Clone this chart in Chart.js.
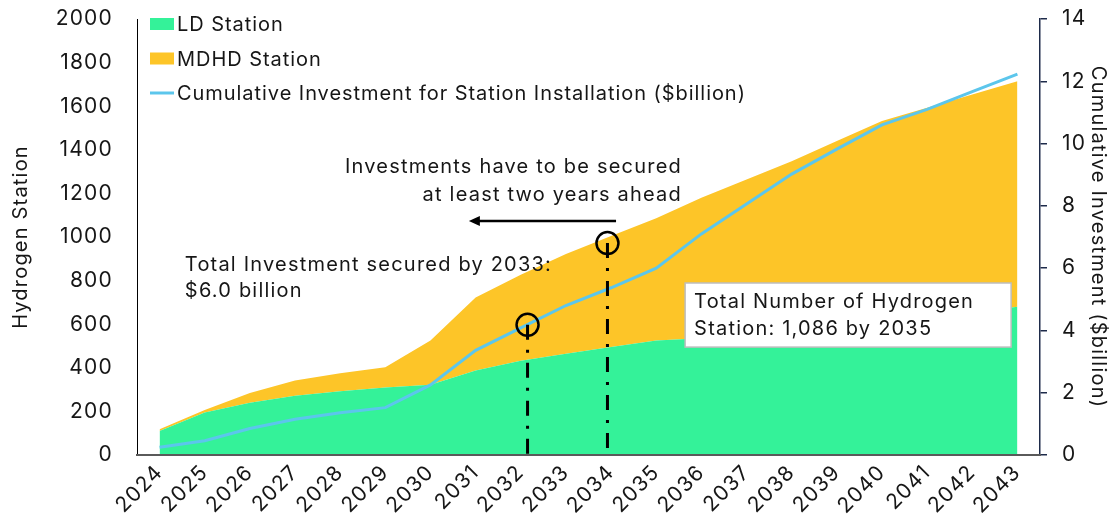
<!DOCTYPE html>
<html>
<head>
<meta charset="utf-8">
<title>Hydrogen Station Build-out</title>
<script src="https://cdn.jsdelivr.net/npm/chart.js@4.4.1/dist/chart.umd.min.js"></script>
<style>
  html, body { margin: 0; padding: 0; background: #fff; }
  canvas { display: block; }
</style>
</head>
<body>
<canvas id="stations" width="1117" height="531"></canvas>
<script>
// Station counts (left axis) and cumulative spend in $billion (right axis)
const years = ['2024', '2025', '2026', '2027', '2028', '2029', '2030', '2031', '2032', '2033',
               '2034', '2035', '2036', '2037', '2038', '2039', '2040', '2041', '2042', '2043'];
const ldStations = [110, 195, 240, 272, 292, 310, 322, 388, 432, 465,
                    495, 525, 535, 550, 565, 585, 605, 630, 655, 680];
const mdhdStations = [8, 11, 44, 70, 83, 93, 203, 334, 395, 457,
                      510, 561, 645, 714, 783, 855, 927, 963, 999, 1035];
const cumulativeInvestment = [0.25, 0.46, 0.85, 1.15, 1.36, 1.52, 2.25, 3.36, 4.08, 4.8,
                              5.37, 6.0, 7.1, 8.06, 9.02, 9.82, 10.6, 11.1, 11.67, 12.23];

const stationAxis = { min: 0, max: 2000, step: 200 };
const investmentAxis = { min: 0, max: 14, step: 2 };

// Callouts, anchored by category index (fractional) and axis value
const securedMark = { at: 8.15, investment: 4.18 };
const stationMark = { at: 9.92, stations: 972 };
const leadNote = { lines: ['Investments have to be secured', 'at least two years ahead'], right: 11.57, stations: 1322 };
const leadArrow = { from: 10.11, to: 6.85, stations: 1073 };
const securedNote = { lines: ['Total Investment secured by 2033:', '$6.0 billion'], left: 0.56, stations: 872 };
const totalNote = { lines: ['Total Number of Hydrogen', 'Station: 1,086 by 2035'], left: 11.64, right: 18.86, top: 789, bottom: 495 };

const FONT = 'Inter, "Open Sans", sans-serif';
const FONT_SIZE = 20;
const TICK_SIZE = 21;
const TRACKING = '1.2px';
const INK = '#161616';
const LD_GREEN = '#34F299';
const MDHD_YELLOW = '#FDC528';
const LINE_BLUE = '#5CC6EC';
const NAVY = '#1E2B4A';

Chart.defaults.font.family = FONT;
Chart.defaults.font.size = FONT_SIZE;
Chart.defaults.color = INK;

// wider letter spacing for every text the canvas draws
const tracking = {
  id: 'tracking',
  beforeDraw(chart) {
    chart.ctx.letterSpacing = TRACKING;
  }
};

// Legend stacked in the top-left corner of the plot
const keyBox = {
  id: 'keyBox',
  afterDatasetsDraw(chart) {
    const { ctx, chartArea } = chart;
    const x0 = chartArea.left + 13;
    ctx.save();
    ctx.font = FONT_SIZE + 'px ' + FONT;
    ctx.letterSpacing = '0.95px';
    ctx.textBaseline = 'middle';
    chart.data.datasets.forEach((ds, i) => {
      const cy = chartArea.top + 5 + i * 34.5;
      if (ds.fill === false) {
        ctx.strokeStyle = ds.borderColor;
        ctx.lineWidth = 3;
        ctx.beginPath();
        ctx.moveTo(x0, cy);
        ctx.lineTo(x0 + 24, cy);
        ctx.stroke();
      } else {
        ctx.fillStyle = ds.backgroundColor;
        ctx.fillRect(x0, cy - 6, 24, 12);
      }
      ctx.fillStyle = INK;
      ctx.fillText(ds.label, x0 + 27, cy + 1);
    });
    ctx.restore();
  }
};

function dashDot(ctx, x, yTop, yBottom) {
  ctx.save();
  ctx.strokeStyle = '#000';
  ctx.lineWidth = 3;
  ctx.setLineDash([15, 10, 3, 10]);
  ctx.beginPath();
  ctx.moveTo(x, yTop);
  ctx.lineTo(x, yBottom);
  ctx.stroke();
  ctx.restore();
}

function ring(ctx, x, y) {
  ctx.save();
  ctx.strokeStyle = '#000';
  ctx.lineWidth = 2.5;
  ctx.beginPath();
  ctx.arc(x, y, 11, 0, Math.PI * 2);
  ctx.stroke();
  ctx.restore();
}

const callouts = {
  id: 'callouts',
  afterDatasetsDraw(chart) {
    const { ctx, scales: { x, y, y1 } } = chart;
    const base = y.getPixelForValue(0);

    // dash-dot drop lines with rings
    const sx = x.getPixelForValue(securedMark.at);
    const sy = y1.getPixelForValue(securedMark.investment);
    dashDot(ctx, sx, sy, base);
    ring(ctx, sx, sy);
    const tx = x.getPixelForValue(stationMark.at);
    const ty = y.getPixelForValue(stationMark.stations);
    dashDot(ctx, tx, ty, base);
    ring(ctx, tx, ty);

    ctx.save();
    ctx.font = FONT_SIZE + 'px ' + FONT;
    ctx.fillStyle = INK;
    ctx.textBaseline = 'middle';

    // lead-time note and arrow
    ctx.textAlign = 'right';
    const lx = x.getPixelForValue(leadNote.right);
    const ly = y.getPixelForValue(leadNote.stations);
    leadNote.lines.forEach((t, i) => ctx.fillText(t, lx, ly + i * 28));

    const ay = y.getPixelForValue(leadArrow.stations);
    const a0 = x.getPixelForValue(leadArrow.from);
    const a1 = x.getPixelForValue(leadArrow.to);
    ctx.strokeStyle = '#000';
    ctx.lineWidth = 2.5;
    ctx.beginPath();
    ctx.moveTo(a0, ay);
    ctx.lineTo(a1 + 8, ay);
    ctx.stroke();
    ctx.fillStyle = '#000';
    ctx.beginPath();
    ctx.moveTo(a1, ay);
    ctx.lineTo(a1 + 11, ay - 5);
    ctx.lineTo(a1 + 11, ay + 5);
    ctx.closePath();
    ctx.fill();

    // secured investment note
    ctx.fillStyle = INK;
    ctx.textAlign = 'left';
    const nx = x.getPixelForValue(securedNote.left);
    const ny = y.getPixelForValue(securedNote.stations);
    securedNote.lines.forEach((t, i) => ctx.fillText(t, nx, ny + i * 26));

    // boxed station total
    const bx0 = x.getPixelForValue(totalNote.left);
    const bx1 = x.getPixelForValue(totalNote.right);
    const by0 = y.getPixelForValue(totalNote.top);
    const by1 = y.getPixelForValue(totalNote.bottom);
    ctx.fillStyle = '#fff';
    ctx.fillRect(bx0, by0, bx1 - bx0, by1 - by0);
    ctx.strokeStyle = '#BDBDBD';
    ctx.lineWidth = 1.5;
    ctx.strokeRect(bx0, by0, bx1 - bx0, by1 - by0);
    ctx.fillStyle = INK;
    totalNote.lines.forEach((t, i) => ctx.fillText(t, bx0 + 9, by0 + 19 + i * 26.5));
    ctx.restore();
  }
};

// keep the tick-label padding from pushing the plot area down
function fixedWidth(w) {
  return (s) => {
    s.width = w;
    s.paddingTop = 0;
    s.paddingBottom = 0;
  };
}

new Chart(document.getElementById('stations'), {
  type: 'line',
  data: {
    labels: years,
    datasets: [
      {
        label: 'LD Station',
        data: ldStations,
        yAxisID: 'y',
        stack: 'stations',
        backgroundColor: LD_GREEN,
        borderWidth: 0,
        pointRadius: 0,
        fill: 'origin',
        order: 1
      },
      {
        label: 'MDHD Station',
        data: mdhdStations,
        yAxisID: 'y',
        stack: 'stations',
        backgroundColor: MDHD_YELLOW,
        borderWidth: 0,
        pointRadius: 0,
        fill: '-1',
        order: 2
      },
      {
        label: 'Cumulative Investment for Station Installation ($billion)',
        data: cumulativeInvestment,
        yAxisID: 'y1',
        borderColor: LINE_BLUE,
        borderWidth: 3,
        pointRadius: 0,
        fill: false,
        order: 0
      }
    ]
  },
  options: {
    responsive: false,
    animation: false,
    devicePixelRatio: 1,
    layout: { padding: { top: 19, left: 0, right: 0, bottom: 0 } },
    plugins: {
      legend: { display: false },
      tooltip: { enabled: false }
    },
    scales: {
      x: {
        offset: true,
        grid: { display: false, drawTicks: false },
        border: { display: true, color: '#5A5A5A', width: 2, z: 1 },
        ticks: { autoSkip: false, minRotation: 45, maxRotation: 45, padding: 5, font: { size: TICK_SIZE } },
        afterFit: (s) => { s.height = 76; }
      },
      y: {
        position: 'left',
        stacked: true,
        min: stationAxis.min,
        max: stationAxis.max,
        ticks: { stepSize: stationAxis.step, padding: 24, font: { size: TICK_SIZE }, callback: (v) => String(v) },
        grid: { display: false, drawTicks: false },
        border: { display: true, color: '#000', width: 1 },
        title: { display: true, text: 'Hydrogen Station', padding: { top: 9, bottom: 0 } },
        afterFit: fixedWidth(137)
      },
      y1: {
        position: 'right',
        min: investmentAxis.min,
        max: investmentAxis.max,
        ticks: { stepSize: investmentAxis.step, padding: 15, font: { size: TICK_SIZE }, callback: (v) => String(v) },
        grid: { drawOnChartArea: false, drawTicks: true, tickLength: 7, color: NAVY, lineWidth: 1.5 },
        border: { display: true, color: NAVY, width: 1.5 },
        title: { display: true, text: 'Cumulative Investment ($billion)', padding: { top: 7, bottom: 0 } },
        afterFit: fixedWidth(77)
      }
    }
  },
  plugins: [tracking, callouts, keyBox]
});
</script>
</body>
</html>
